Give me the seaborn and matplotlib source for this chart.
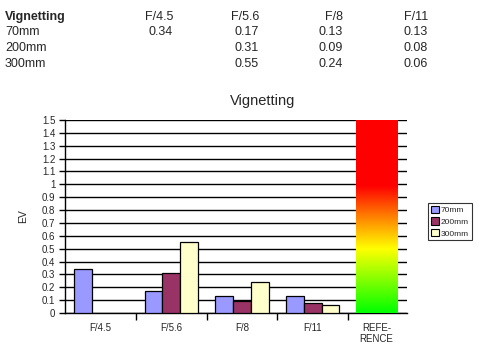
import numpy as np
import pandas as pd
import matplotlib
matplotlib.use("Agg")
import matplotlib.pyplot as plt
import seaborn as sns
from matplotlib.colors import LinearSegmentedColormap
from matplotlib.patches import Patch

# ---- data ----
fstops = ["F/4.5", "F/5.6", "F/8", "F/11"]
focal = ["70mm", "200mm", "300mm"]
v70 = [0.34, 0.17, 0.13, 0.13]
v200 = [np.nan, 0.31, 0.09, 0.08]
v300 = [np.nan, 0.55, 0.24, 0.06]
ref_label = "REFE-\nRENCE"
ref_value = 1.5
yticks = [0, 0.1, 0.2, 0.3, 0.4, 0.5, 0.6, 0.7, 0.8, 0.9, 1, 1.1, 1.2, 1.3, 1.4, 1.5]
colors = ["#9999FF", "#993366", "#FFFFCC"]

rows = []
for f, vals in zip(focal, [v70, v200, v300]):
    for c, v in zip(fstops, vals):
        if not np.isnan(v):
            rows.append({"fstop": c, "focal": f, "ev": v})
df = pd.DataFrame(rows)
order = fstops + [ref_label]

sns.set_style("white")
plt.rcParams["font.family"] = ["Liberation Sans", "DejaVu Sans"]

fig = plt.figure(figsize=(4.87, 3.48), dpi=100)
ax = fig.add_axes([65 / 487, 35 / 348, (407 - 65) / 487, (313 - 120) / 348])

sns.barplot(data=df, x="fstop", y="ev", hue="focal", order=order,
            hue_order=focal, palette=colors, saturation=1, width=0.75,
            edgecolor="black", linewidth=0.9, ax=ax, legend=False, zorder=3)

# gridlines
ax.set_ylim(0, 1.5)
ax.set_yticks(yticks)
ax.set_yticklabels([f"{t:g}" for t in yticks], fontsize=7)
ax.yaxis.grid(True, color="black", linewidth=1, zorder=0)
ax.set_axisbelow(True)

# reference gradient bar
ref_x = 3.9
ref_w = 0.58
cmap = LinearSegmentedColormap.from_list(
    "ref", [(0, "#00FF00"), (0.333, "#FFFF00"), (0.5, "#FF8000"),
            (0.66, "#FF0000"), (1, "#FF0000")])
grad = np.linspace(0, 1, 256).reshape(-1, 1)
ax.imshow(grad, cmap=cmap, origin="lower", aspect="auto",
          extent=[ref_x - ref_w / 2, ref_x + ref_w / 2, 0, ref_value], zorder=4)

ax.set_xlim(-0.5, 4.33)
ax.set_xticks([0, 1, 2, 3, ref_x])
ax.set_xticklabels(order, fontsize=7)
ax.tick_params(axis="x", which="major", length=0, pad=7)
ax.set_xticks([0.5, 1.5, 2.5, 3.5], minor=True)
ax.tick_params(axis="x", which="minor", bottom=True, length=5, width=1,
               color="black", direction="out")
ax.tick_params(axis="y", length=4, width=1, color="black", direction="out",
               pad=3, left=True)
ax.set_xlabel("")
ax.set_ylabel("EV", fontsize=7.5, labelpad=10)

for s in ["top", "right"]:
    ax.spines[s].set_visible(False)
for s in ["left", "bottom"]:
    ax.spines[s].set_color("black")
    ax.spines[s].set_linewidth(1)

fig.text(263 / 487, 1 - 101 / 348, "Vignetting", ha="center", va="center", fontsize=10.5)

handles = [Patch(facecolor=c, edgecolor="black", linewidth=0.8) for c in colors]
leg = fig.legend(handles, focal, loc="upper left", bbox_to_anchor=(428 / 487, 1 - 203 / 348),
                 fontsize=6, frameon=True, fancybox=False, handlelength=1.0,
                 handleheight=1.0, handletextpad=0.2, borderpad=0.35,
                 labelspacing=0.35, borderaxespad=0)
leg.get_frame().set_edgecolor("black")
leg.get_frame().set_linewidth(0.8)

# top table
ty = [17, 32, 48, 64]
fig.text(5 / 487, 1 - ty[0] / 348, "Vignetting", ha="left", va="center",
         fontsize=9, fontweight="bold")
col_x = [173, 259, 343, 428]
for cx, f in zip(col_x, fstops):
    fig.text(cx / 487, 1 - ty[0] / 348, f, ha="right", va="center", fontsize=9)
for r, (f, vals) in enumerate(zip(focal, [v70, v200, v300])):
    y = 1 - ty[r + 1] / 348
    fig.text(5 / 487, y, f, ha="left", va="center", fontsize=9)
    for cx, v in zip(col_x, vals):
        if not np.isnan(v):
            fig.text(cx / 487, y, f"{v:.2f}", ha="right", va="center", fontsize=9)

fig.savefig("out.png", dpi=100, facecolor="white")
